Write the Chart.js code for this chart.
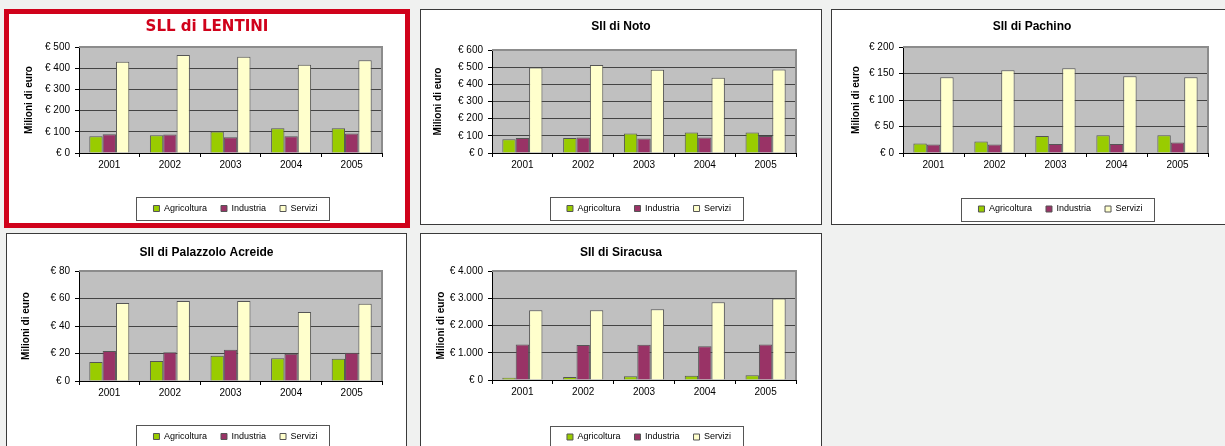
<!DOCTYPE html>
<html>
<head>
<meta charset="utf-8">
<script src="https://cdn.jsdelivr.net/npm/chart.js@4.4.0/dist/chart.umd.min.js"></script>
<style>
  body { margin: 0; background: #f0f1f0; width: 1225px; height: 446px; overflow: hidden; position: relative; }
  .panel { position: absolute; background: #fff; border: 1px solid #3a3a3a; box-sizing: border-box; }
  .panel canvas { display: block; }
  #p1 { border: 5px solid #d0021b; }
</style>
</head>
<body>
<div class="panel" id="p1" style="left:4px;top:9px;width:406px;height:219px"><canvas id="c1" width="396" height="209"></canvas></div>
<div class="panel" id="p2" style="left:420px;top:9px;width:402px;height:216px"><canvas id="c2" width="400" height="214"></canvas></div>
<div class="panel" id="p3" style="left:831px;top:9px;width:402px;height:216px"><canvas id="c3" width="400" height="214"></canvas></div>
<div class="panel" id="p4" style="left:6px;top:233px;width:401px;height:220px"><canvas id="c4" width="399" height="218"></canvas></div>
<div class="panel" id="p5" style="left:420px;top:233px;width:402px;height:220px"><canvas id="c5" width="400" height="218"></canvas></div>
<script>
// values, milioni di euro
const years = ['2001', '2002', '2003', '2004', '2005'];
const seriesNames = ['Agricoltura', 'Industria', 'Servizi'];

const lentiniAgr = [79, 84, 101, 117, 117];
const lentiniInd = [89, 87, 74, 79, 92];
const lentiniSer = [430, 462, 454, 416, 438];

const notoAgr = [80, 87, 113, 120, 120];
const notoInd = [88, 91, 85, 91, 99];
const notoSer = [498, 512, 485, 438, 487];

const pachinoAgr = [18, 21.5, 32, 33.5, 33.5];
const pachinoInd = [16, 16, 17, 17, 20];
const pachinoSer = [143, 156, 160, 145, 143];

const palazzoloAgr = [13.8, 14.5, 18.4, 16.5, 16.2];
const palazzoloInd = [21.8, 21, 22.8, 19.9, 20.6];
const palazzoloSer = [56.7, 58.2, 58.2, 50.2, 56.2];

const siracusaAgr = [86, 110, 135, 160, 172];
const siracusaInd = [1305, 1280, 1292, 1243, 1305];
const siracusaSer = [2560, 2560, 2597, 2855, 2990];

// y axis ranges
const yMax = [500, 600, 200, 80, 4000];
const yStep = [100, 100, 50, 20, 1000];

const titles = ['SLL di LENTINI', 'SIl di Noto', 'SIl di Pachino', 'SIl di Palazzolo Acreide', 'SIl di Siracusa'];
const seriesColors = ['#99cc00', '#993366', '#ffffcc'];

const FONT = "'Liberation Sans', Arial, sans-serif";
Chart.defaults.font.family = FONT;
Chart.defaults.color = '#000';

const euro = v => '€ ' + String(v).replace(/\B(?=(\d{3})+(?!\d))/g, '.');

// the red title is a narrow bold face; use one if installed, else shrink to the same width
const probe = document.createElement('canvas').getContext('2d');
function textW(font) { probe.font = font; return probe.measureText(titles[0]).width; }
let bigFamily = FONT;
for (const fam of ['Liberation Sans Narrow', 'Arial Narrow', 'DejaVu Sans Condensed']) {
  if (textW(`bold 40px "${fam}", monospace`) !== textW('bold 40px monospace')) {
    bigFamily = `"${fam}", ${FONT}`;
    break;
  }
}
const bigSize = Math.min(20.5, 20 * 123 / textW(`bold 20px ${bigFamily}`));

// grey plot background, frame and the box round the legend
const plotFrame = {
  id: 'plotFrame',
  afterLayout(chart) {
    // legend sits a little right of the plot centre in the original
    chart.legend.left += 5;
    chart.legend.right += 5;
  },
  beforeDraw(chart) {
    const { ctx, chartArea: a } = chart;
    ctx.save();
    ctx.fillStyle = '#c0c0c0';
    ctx.fillRect(a.left, a.top, a.right - a.left, a.bottom - a.top);
    ctx.restore();
  },
  afterDraw(chart) {
    const { ctx, chartArea: a, legend } = chart;
    ctx.save();
    ctx.strokeStyle = '#8c8c8c';
    ctx.lineWidth = 2;
    ctx.beginPath();
    ctx.moveTo(a.left, a.top);
    ctx.lineTo(a.right, a.top);
    ctx.lineTo(a.right, a.bottom);
    ctx.stroke();

    const hb = legend.legendHitBoxes;
    if (hb && hb.length) {
      const last = hb[hb.length - 1];
      const x0 = hb[0].left - 17;
      const x1 = last.left + last.width + 12;
      const cy = hb[0].top + hb[0].height / 2;
      ctx.lineWidth = 1;
      ctx.strokeStyle = '#555';
      ctx.strokeRect(Math.round(x0) + 0.5, Math.round(cy - 11.5) + 0.5, Math.round(x1 - x0), 23);
    }
    ctx.restore();
  }
};

// lay.left = plot left edge inside the canvas; side padding is equal so titles stay centred
function makeChart(canvasId, i, values, lay) {
  const ctx = document.getElementById(canvasId);
  return new Chart(ctx, {
    type: 'bar',
    data: {
      labels: years,
      datasets: values.map((d, k) => ({
        label: seriesNames[k],
        data: d,
        backgroundColor: seriesColors[k],
        borderColor: '#555',
        borderWidth: 1,
        categoryPercentage: 0.66,
        barPercentage: 1
      }))
    },
    options: {
      responsive: false,
      animation: false,
      devicePixelRatio: 1,
      layout: { padding: { left: lay.padR, right: lay.padR, top: 0, bottom: lay.padB } },
      plugins: {
        title: {
          display: true,
          text: titles[i],
          color: lay.titleColor || '#000',
          font: lay.titleFont,
          padding: { top: lay.titleTop, bottom: lay.titleBottom }
        },
        legend: {
          position: 'bottom',
          fullSize: false,
          labels: { boxWidth: 6, boxHeight: 6, padding: 14, color: '#000', font: { size: 9 } }
        },
        tooltip: { enabled: false }
      },
      scales: {
        x: {
          grid: { offset: true, drawOnChartArea: false, tickLength: 4, tickColor: '#000' },
          border: { color: '#000', width: 1 },
          ticks: { color: '#000', font: { size: 10 }, padding: 2, maxRotation: 0 },
          afterFit: s => { s.height = lay.hx; }
        },
        y: {
          min: 0,
          max: yMax[i],
          ticks: { stepSize: yStep[i], padding: 5, color: '#000', font: { size: 10 }, callback: v => euro(v) },
          grid: { color: '#444', tickLength: 4, tickColor: '#000' },
          border: { color: '#000', width: 1 },
          title: {
            display: true,
            text: 'Milioni di euro',
            color: '#000',
            font: { size: 10, weight: 'bold' },
            padding: { top: lay.yTitleX - 6 - lay.padR, bottom: 0 }
          },
          afterFit: s => { s.width = lay.left - lay.padR; }
        }
      }
    },
    plugins: [plotFrame]
  });
}

const small = { size: 12, weight: 'bold' };

makeChart('c1', 0, [lentiniAgr, lentiniInd, lentiniSer], {
  left: 70, padR: 23, padB: 0, hx: 37, yTitleX: 20,
  titleColor: '#d0021b', titleTop: 13 - 0.6 * bigSize, titleBottom: 33 - (13 - 0.6 * bigSize) - 1.2 * bigSize,
  titleFont: { family: bigFamily, size: bigSize, weight: 'bold' }
});
makeChart('c2', 1, [notoAgr, notoInd, notoSer], {
  left: 71, padR: 25, padB: 1, hx: 37, yTitleX: 17.3,
  titleTop: 9.8, titleBottom: 15.8, titleFont: small
});
makeChart('c3', 2, [pachinoAgr, pachinoInd, pachinoSer], {
  left: 71, padR: 24, padB: 0.5, hx: 37.5, yTitleX: 24.7,
  titleTop: 9.8, titleBottom: 12.8, titleFont: small
});
makeChart('c4', 3, [palazzoloAgr, palazzoloInd, palazzoloSer], {
  left: 72, padR: 24, padB: 1, hx: 37, yTitleX: 19.7,
  titleTop: 11.8, titleBottom: 10.8, titleFont: small
});
makeChart('c5', 4, [siracusaAgr, siracusaInd, siracusaSer], {
  left: 71, padR: 25, padB: 0.5, hx: 38.5, yTitleX: 20.7,
  titleTop: 11.8, titleBottom: 10.8, titleFont: small
});
</script>
</body>
</html>
